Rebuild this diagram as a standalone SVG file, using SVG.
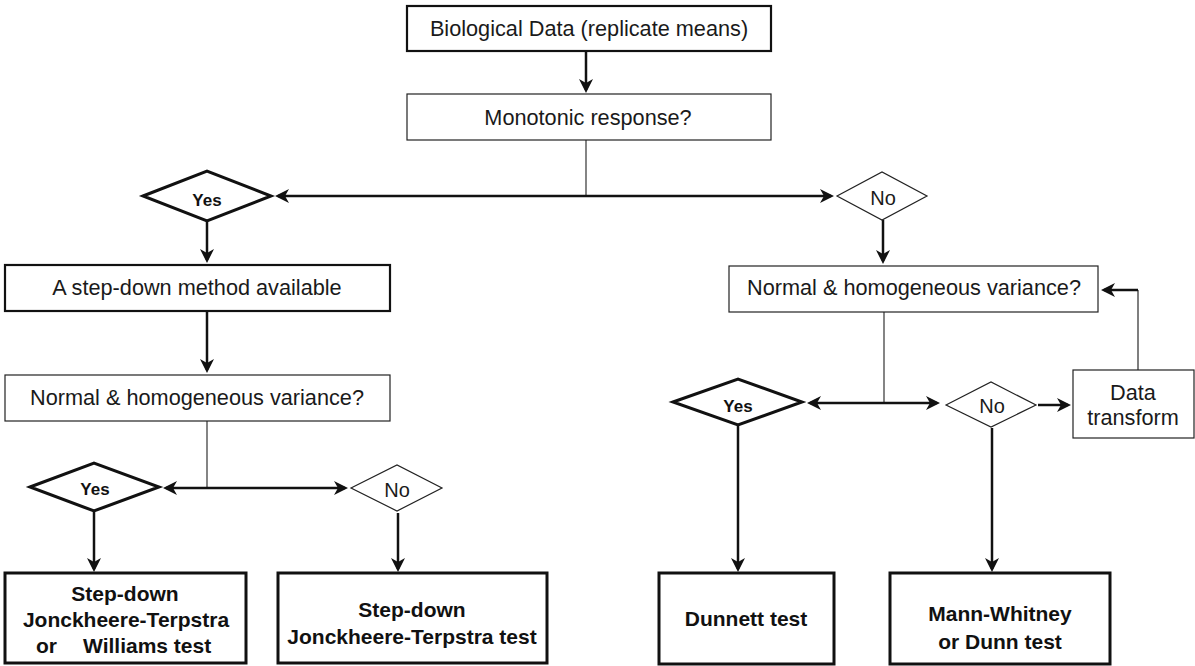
<svg xmlns="http://www.w3.org/2000/svg" width="1195" height="666" viewBox="0 0 1195 666">
<defs>
<style>
.bg{fill:#ffffff}
.thin{fill:#ffffff;stroke:#222;stroke-width:1.2}
.thick{fill:#ffffff;stroke:#111;stroke-width:2.2}
.heavy{fill:#ffffff;stroke:#111;stroke-width:3}
.t{font-family:"Liberation Sans",Arial,sans-serif;font-size:21.7px;fill:#1a1a1a;text-anchor:middle}
.n{font-family:"Liberation Sans",Arial,sans-serif;font-size:20px;fill:#1a1a1a;text-anchor:middle}
.b{font-family:"Liberation Sans",Arial,sans-serif;font-size:21px;font-weight:bold;fill:#111;text-anchor:middle}
.y{font-family:"Liberation Sans",Arial,sans-serif;font-size:17px;font-weight:bold;fill:#111;text-anchor:middle}
.a{fill:none;stroke:#111;stroke-width:2.5}
.l{fill:none;stroke:#333;stroke-width:1.2}
</style>
<marker id="ah" viewBox="0 0 14 14" refX="11" refY="7" markerWidth="14" markerHeight="14" markerUnits="userSpaceOnUse" orient="auto-start-reverse">
<path d="M0,0 L14,7 L0,14 L4,7 z" fill="#111"/>
</marker>
</defs>
<rect class="bg" x="0" y="0" width="1195" height="666"/>

<g id="connectors">
<line class="a" x1="586" y1="51" x2="586" y2="90" marker-end="url(#ah)"/>
<line class="l" x1="586" y1="140" x2="586" y2="196"/>
<line class="a" x1="278" y1="196" x2="831" y2="196" marker-start="url(#ah)" marker-end="url(#ah)"/>
<line class="a" x1="207" y1="221" x2="207" y2="260" marker-end="url(#ah)"/>
<line class="a" x1="207" y1="311" x2="207" y2="370" marker-end="url(#ah)"/>
<line class="l" x1="207" y1="421" x2="207" y2="488"/>
<line class="a" x1="166" y1="488" x2="345" y2="488" marker-start="url(#ah)" marker-end="url(#ah)"/>
<line class="a" x1="94" y1="512" x2="94" y2="569" marker-end="url(#ah)"/>
<line class="a" x1="398" y1="513" x2="398" y2="569" marker-end="url(#ah)"/>
<line class="a" x1="883" y1="220" x2="883" y2="261" marker-end="url(#ah)"/>
<line class="l" x1="884" y1="312" x2="884" y2="403"/>
<line class="a" x1="810" y1="403" x2="937" y2="403" marker-start="url(#ah)" marker-end="url(#ah)"/>
<line class="a" x1="1038" y1="405" x2="1068" y2="405" marker-end="url(#ah)"/>
<line class="l" x1="1138" y1="370" x2="1138" y2="290" style="stroke:#555;stroke-width:1.5"/>
<line class="a" x1="1138" y1="290" x2="1104" y2="290" marker-end="url(#ah)"/>
<line class="a" x1="738" y1="426" x2="738" y2="569" marker-end="url(#ah)"/>
<line class="a" x1="992" y1="428" x2="992" y2="569" marker-end="url(#ah)"/>
</g>

<g id="n-bio">
<rect class="thick" x="407" y="6" width="364" height="45"/>
<text class="t" x="589" y="36">Biological Data (replicate means)</text>
</g>
<g id="n-mono">
<rect class="thin" x="407" y="94" width="364" height="46"/>
<text class="t" x="588" y="125">Monotonic response?</text>
</g>
<g id="n-yes1">
<polygon class="heavy" points="143,196 207,171 271,196 207,221"/>
<text class="y" x="207" y="206">Yes</text>
</g>
<g id="n-no1">
<polygon class="thin" points="837,196 882,172 927,196 882,220"/>
<text class="n" x="883" y="205">No</text>
</g>
<g id="n-stepdown">
<rect class="thick" x="5" y="265" width="385" height="46"/>
<text class="t" x="197" y="295">A step-down method available</text>
</g>
<g id="n-normal-left">
<rect class="thin" x="5" y="375" width="385" height="46"/>
<text class="t" x="197" y="405">Normal &amp; homogeneous variance?</text>
</g>
<g id="n-yes2">
<polygon class="heavy" points="30,487 94,463 159,487 94,511"/>
<text class="y" x="95" y="495">Yes</text>
</g>
<g id="n-no2">
<polygon class="thin" points="351,488 397,465 442,488 397,511"/>
<text class="n" x="397" y="497">No</text>
</g>
<g id="n-jt-williams">
<rect class="heavy" x="5" y="573" width="241" height="90"/>
<text class="b" x="125" y="601">Step-down</text>
<text class="b" x="126" y="627">Jonckheere-Terpstra</text>
<text class="b" y="653" style="text-anchor:start"><tspan x="36">or</tspan><tspan x="83">Williams test</tspan></text>
</g>
<g id="n-jt">
<rect class="heavy" x="278" y="573" width="269" height="90"/>
<text class="b" x="412" y="617">Step-down</text>
<text class="b" x="412" y="644">Jonckheere-Terpstra test</text>
</g>
<g id="n-normal-right">
<rect class="thin" x="729" y="266" width="369" height="46"/>
<text class="t" x="914" y="295">Normal &amp; homogeneous variance?</text>
</g>
<g id="n-yes3">
<polygon class="heavy" points="673,402 738,379 802,402 738,425"/>
<text class="y" x="738" y="412">Yes</text>
</g>
<g id="n-no3">
<polygon class="thin" points="946,405 991,382 1036,405 991,427"/>
<text class="n" x="992" y="413">No</text>
</g>
<g id="n-transform">
<rect class="thin" x="1073" y="370" width="121" height="68"/>
<text class="t" x="1133" y="400">Data</text>
<text class="t" x="1133" y="425">transform</text>
</g>
<g id="n-dunnett">
<rect class="heavy" x="659" y="573" width="175" height="91"/>
<text class="b" x="746" y="626">Dunnett test</text>
</g>
<g id="n-mann">
<rect class="heavy" x="890" y="573" width="220" height="91"/>
<text class="b" x="1000" y="621">Mann-Whitney</text>
<text class="b" x="1000" y="649">or Dunn test</text>
</g>
</svg>
